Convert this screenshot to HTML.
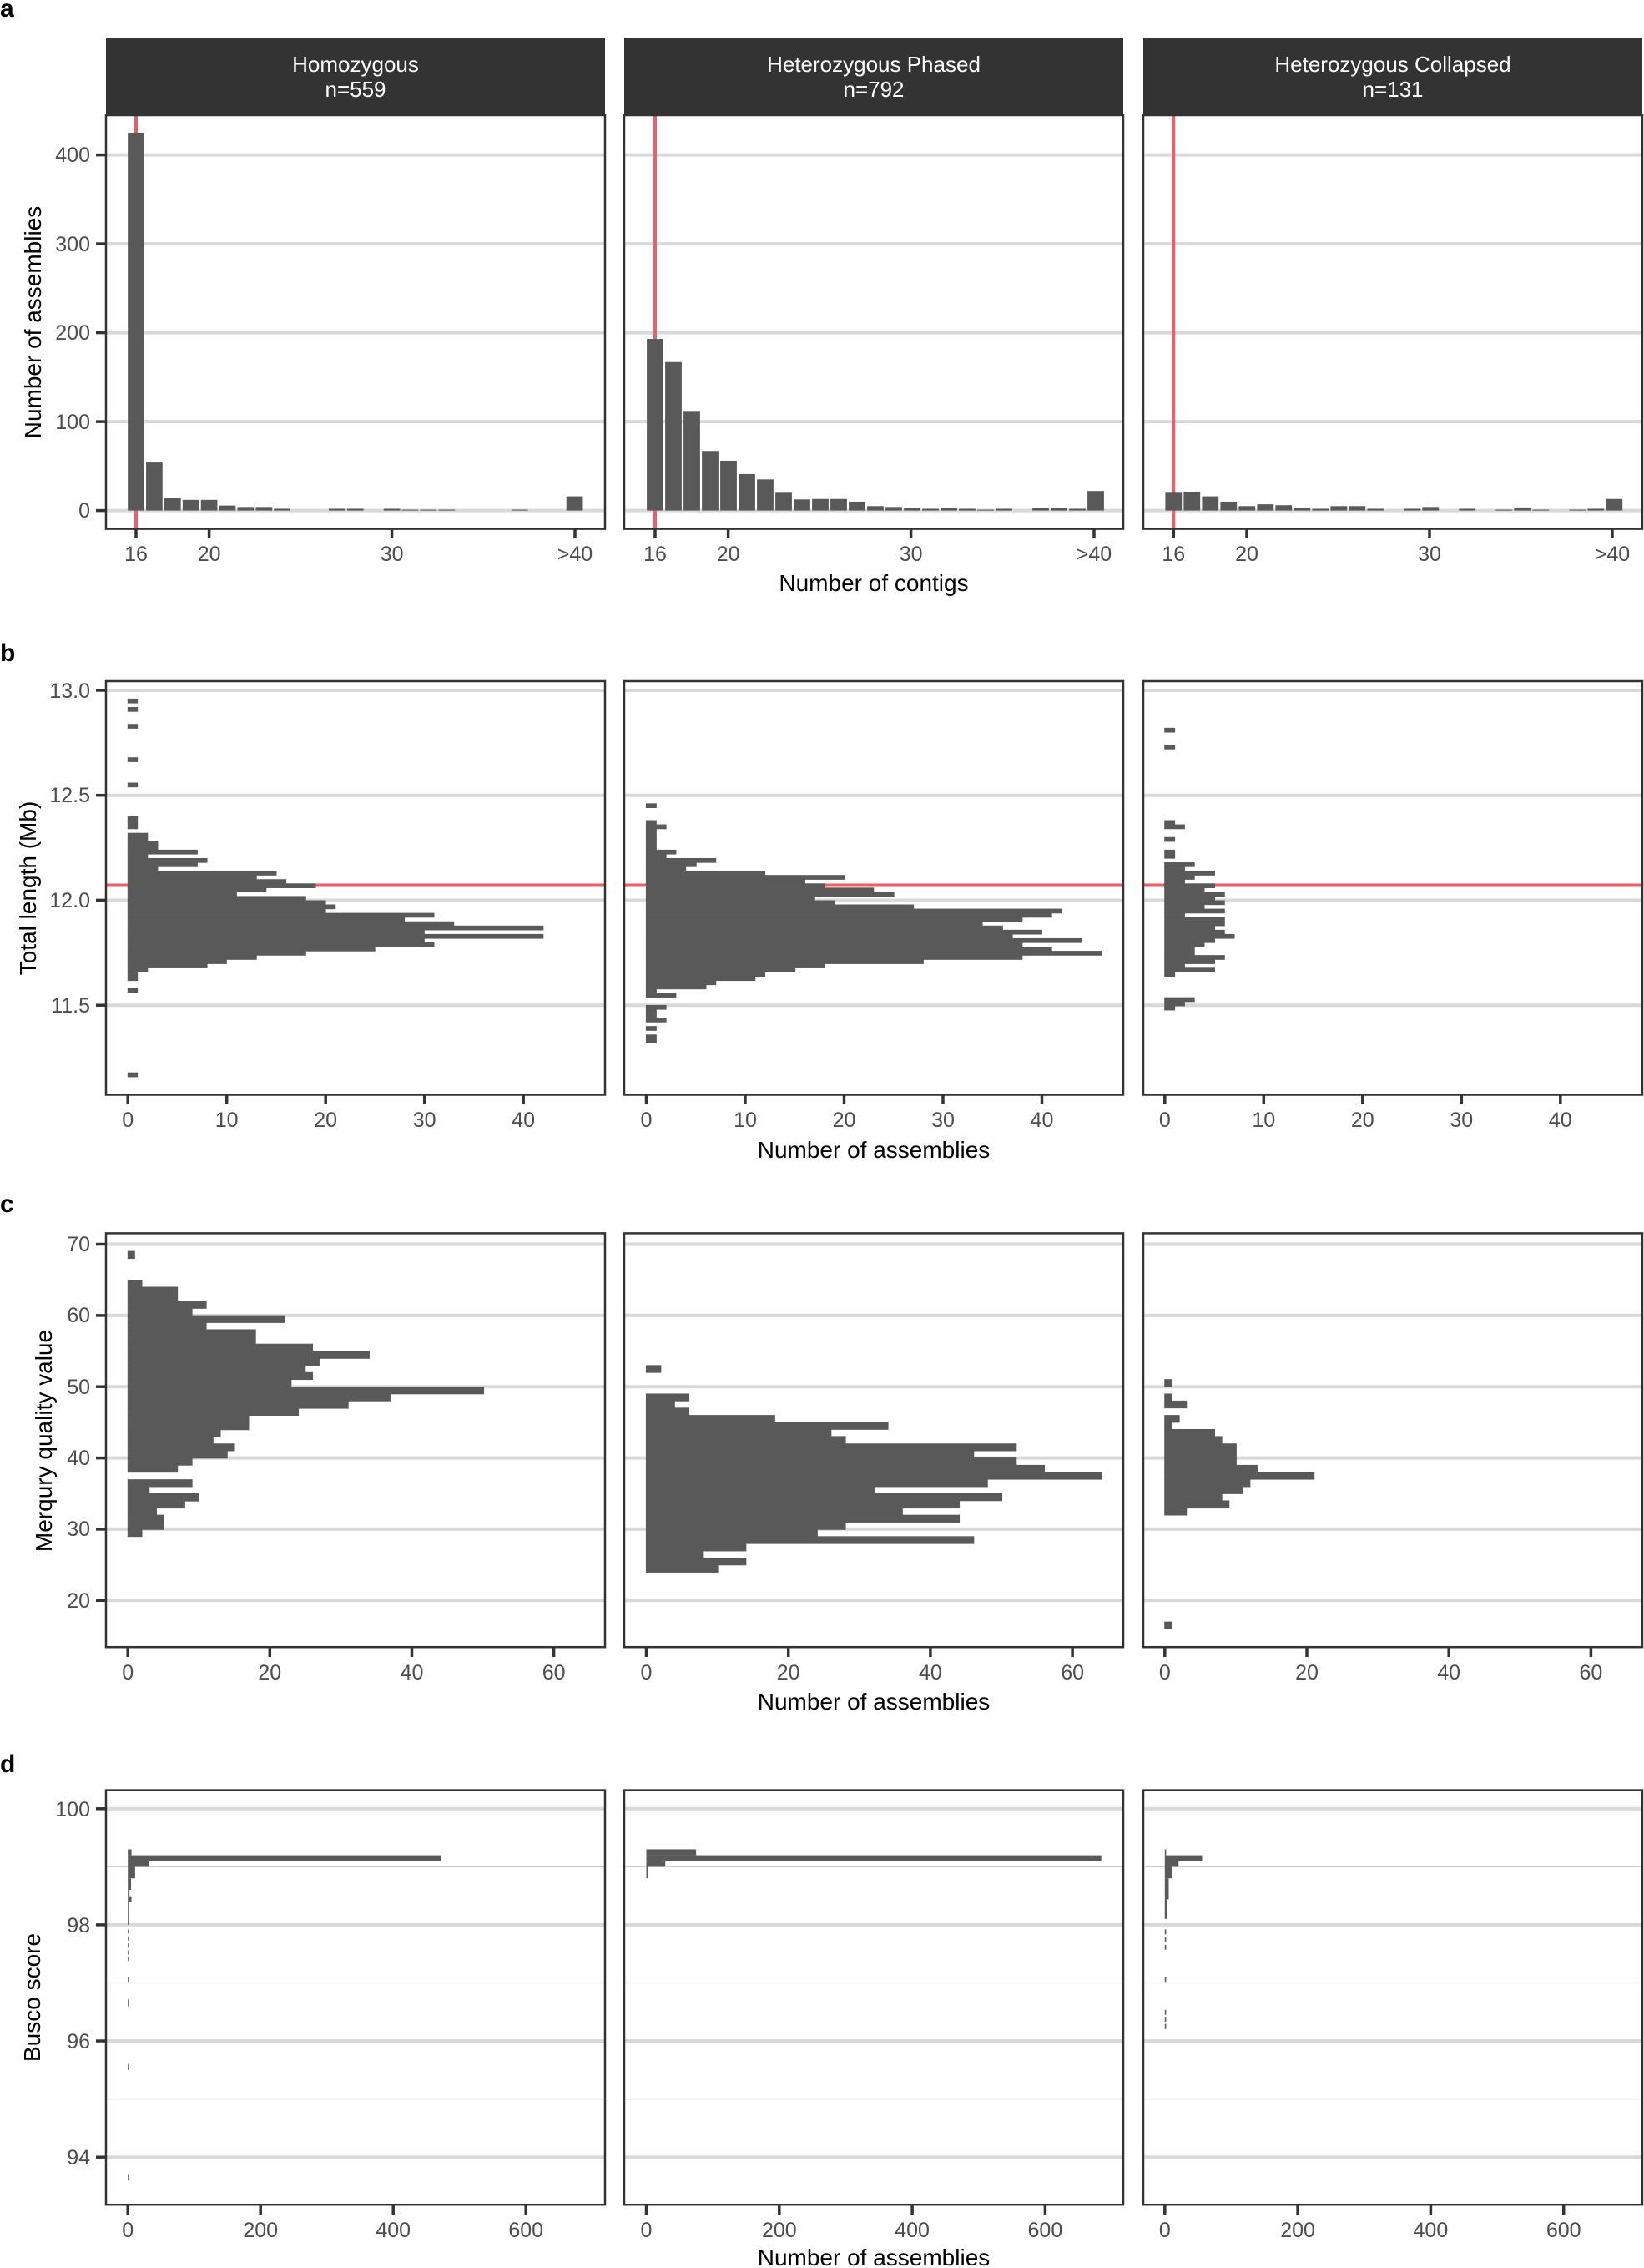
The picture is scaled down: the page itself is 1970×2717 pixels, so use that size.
<!DOCTYPE html>
<html><head><meta charset="utf-8"><style>
html,body{margin:0;padding:0;background:#fff}
svg{display:block}
text{font-family:"Liberation Sans",Arial,sans-serif}
.tk{fill:#4d4d4d;font-size:25px}
.tt{fill:#000;font-size:28px}
.st{fill:#fff;font-size:26px}
.pl{font-size:30px;font-weight:bold;fill:#000}
.gr{stroke:#d9d9d9;stroke-width:4}
.gm{stroke:#cfcfcf;stroke-width:1.2}
.bx{fill:none;stroke:#333;stroke-width:2.5}
.ax{stroke:#333;stroke-width:3.5}
.bar{fill:#595959}
.hb{fill:#595959;stroke:#595959;stroke-width:1.5}
</style></head><body>
<svg width="1970" height="2717" viewBox="0 0 1970 2717" xmlns="http://www.w3.org/2000/svg">
<!-- ========== A ========== -->
<text class="pl" x="0" y="20">a</text>
<g>
<rect x="127" y="45" width="598" height="93" fill="#333"/>
<rect x="748" y="45" width="598" height="93" fill="#333"/>
<rect x="1370" y="45" width="598" height="93" fill="#333"/>
<text class="st" x="426" y="86" text-anchor="middle">Homozygous</text>
<text class="st" x="426" y="116" text-anchor="middle">n=559</text>
<text class="st" x="1047" y="86" text-anchor="middle">Heterozygous Phased</text>
<text class="st" x="1047" y="116" text-anchor="middle">n=792</text>
<text class="st" x="1669" y="86" text-anchor="middle">Heterozygous Collapsed</text>
<text class="st" x="1669" y="116" text-anchor="middle">n=131</text>
</g>
<g id="ag">
<line class="gr" x1="128" x2="724" y1="611.6" y2="611.6"/>
<line class="gr" x1="128" x2="724" y1="505.1" y2="505.1"/>
<line class="gr" x1="128" x2="724" y1="398.6" y2="398.6"/>
<line class="gr" x1="128" x2="724" y1="292.1" y2="292.1"/>
<line class="gr" x1="128" x2="724" y1="185.6" y2="185.6"/>
<line class="gr" x1="749" x2="1345" y1="611.6" y2="611.6"/>
<line class="gr" x1="749" x2="1345" y1="505.1" y2="505.1"/>
<line class="gr" x1="749" x2="1345" y1="398.6" y2="398.6"/>
<line class="gr" x1="749" x2="1345" y1="292.1" y2="292.1"/>
<line class="gr" x1="749" x2="1345" y1="185.6" y2="185.6"/>
<line class="gr" x1="1371" x2="1967" y1="611.6" y2="611.6"/>
<line class="gr" x1="1371" x2="1967" y1="505.1" y2="505.1"/>
<line class="gr" x1="1371" x2="1967" y1="398.6" y2="398.6"/>
<line class="gr" x1="1371" x2="1967" y1="292.1" y2="292.1"/>
<line class="gr" x1="1371" x2="1967" y1="185.6" y2="185.6"/>
</g>
<line x1="163" x2="163" y1="138" y2="633" stroke="#e8606a" stroke-width="4"/>
<line x1="785" x2="785" y1="138" y2="633" stroke="#e8606a" stroke-width="4"/>
<line x1="1406.3" x2="1406.3" y1="138" y2="633" stroke="#e8606a" stroke-width="4"/>
<g class="bar" transform="translate(163,611.6) scale(21.9,-1.065)">
<rect x="-0.45" y="0" width="0.9" height="425"/>
<rect x="0.55" y="0" width="0.9" height="54"/>
<rect x="1.55" y="0" width="0.9" height="14"/>
<rect x="2.55" y="0" width="0.9" height="12"/>
<rect x="3.55" y="0" width="0.9" height="12"/>
<rect x="4.55" y="0" width="0.9" height="5.6"/>
<rect x="5.55" y="0" width="0.9" height="4"/>
<rect x="6.55" y="0" width="0.9" height="4"/>
<rect x="7.55" y="0" width="0.9" height="2"/>
<rect x="10.55" y="0" width="0.9" height="2"/>
<rect x="11.55" y="0" width="0.9" height="2"/>
<rect x="13.55" y="0" width="0.9" height="2"/>
<rect x="14.55" y="0" width="0.9" height="1"/>
<rect x="15.55" y="0" width="0.9" height="1"/>
<rect x="16.55" y="0" width="0.9" height="1"/>
<rect x="20.55" y="0" width="0.9" height="1"/>
<rect x="23.55" y="0" width="0.9" height="16"/>
</g>
<g class="bar" transform="translate(785,611.6) scale(22,-1.065)">
<rect x="-0.45" y="0" width="0.9" height="193"/>
<rect x="0.55" y="0" width="0.9" height="167"/>
<rect x="1.55" y="0" width="0.9" height="112"/>
<rect x="2.55" y="0" width="0.9" height="67"/>
<rect x="3.55" y="0" width="0.9" height="56"/>
<rect x="4.55" y="0" width="0.9" height="41"/>
<rect x="5.55" y="0" width="0.9" height="35"/>
<rect x="6.55" y="0" width="0.9" height="20"/>
<rect x="7.55" y="0" width="0.9" height="12.5"/>
<rect x="8.55" y="0" width="0.9" height="13"/>
<rect x="9.55" y="0" width="0.9" height="13"/>
<rect x="10.55" y="0" width="0.9" height="10"/>
<rect x="11.55" y="0" width="0.9" height="5"/>
<rect x="12.55" y="0" width="0.9" height="4"/>
<rect x="13.55" y="0" width="0.9" height="3"/>
<rect x="14.55" y="0" width="0.9" height="2"/>
<rect x="15.55" y="0" width="0.9" height="3"/>
<rect x="16.55" y="0" width="0.9" height="2"/>
<rect x="17.55" y="0" width="0.9" height="1"/>
<rect x="18.55" y="0" width="0.9" height="2"/>
<rect x="20.55" y="0" width="0.9" height="3"/>
<rect x="21.55" y="0" width="0.9" height="3"/>
<rect x="22.55" y="0" width="0.9" height="2"/>
<rect x="23.55" y="0" width="0.9" height="22"/>
</g>
<g class="bar" transform="translate(1406.3,611.6) scale(22,-1.065)">
<rect x="-0.45" y="0" width="0.9" height="20"/>
<rect x="0.55" y="0" width="0.9" height="21"/>
<rect x="1.55" y="0" width="0.9" height="16"/>
<rect x="2.55" y="0" width="0.9" height="10"/>
<rect x="3.55" y="0" width="0.9" height="5"/>
<rect x="4.55" y="0" width="0.9" height="7"/>
<rect x="5.55" y="0" width="0.9" height="6"/>
<rect x="6.55" y="0" width="0.9" height="3"/>
<rect x="7.55" y="0" width="0.9" height="2"/>
<rect x="8.55" y="0" width="0.9" height="5"/>
<rect x="9.55" y="0" width="0.9" height="5"/>
<rect x="10.55" y="0" width="0.9" height="2"/>
<rect x="12.55" y="0" width="0.9" height="2"/>
<rect x="13.55" y="0" width="0.9" height="4"/>
<rect x="15.55" y="0" width="0.9" height="2"/>
<rect x="17.55" y="0" width="0.9" height="1"/>
<rect x="18.55" y="0" width="0.9" height="3.5"/>
<rect x="19.55" y="0" width="0.9" height="1"/>
<rect x="21.55" y="0" width="0.9" height="1"/>
<rect x="22.55" y="0" width="0.9" height="2"/>
<rect x="23.55" y="0" width="0.9" height="13"/>
</g>
<rect class="bx" x="127" y="138" width="598" height="495.6"/>
<rect class="bx" x="748" y="138" width="598" height="495.6"/>
<rect class="bx" x="1370" y="138" width="598" height="495.6"/>
<g class="ax">
<line x1="115" x2="127" y1="611.6" y2="611.6"/><line x1="115" x2="127" y1="505.1" y2="505.1"/><line x1="115" x2="127" y1="398.6" y2="398.6"/><line x1="115" x2="127" y1="292.1" y2="292.1"/><line x1="115" x2="127" y1="185.6" y2="185.6"/>
<line x1="163" x2="163" y1="634" y2="645"/><line x1="250.6" x2="250.6" y1="634" y2="645"/><line x1="469.6" x2="469.6" y1="634" y2="645"/><line x1="689" x2="689" y1="634" y2="645"/>
<line x1="785" x2="785" y1="634" y2="645"/><line x1="872.6" x2="872.6" y1="634" y2="645"/><line x1="1091.6" x2="1091.6" y1="634" y2="645"/><line x1="1311" x2="1311" y1="634" y2="645"/>
<line x1="1406.3" x2="1406.3" y1="634" y2="645"/><line x1="1494" x2="1494" y1="634" y2="645"/><line x1="1713" x2="1713" y1="634" y2="645"/><line x1="1932" x2="1932" y1="634" y2="645"/>
</g>
<g class="tk" text-anchor="end">
<text x="108" y="620">0</text><text x="108" y="514">100</text><text x="108" y="407">200</text><text x="108" y="301">300</text><text x="108" y="194">400</text>
</g>
<g class="tk" text-anchor="middle">
<text x="163" y="672">16</text><text x="250.6" y="672">20</text><text x="469.6" y="672">30</text><text x="689" y="672">&gt;40</text>
<text x="785" y="672">16</text><text x="872.6" y="672">20</text><text x="1091.6" y="672">30</text><text x="1311" y="672">&gt;40</text>
<text x="1406.3" y="672">16</text><text x="1494" y="672">20</text><text x="1713" y="672">30</text><text x="1932" y="672">&gt;40</text>
</g>
<text class="tt" x="1047" y="708" text-anchor="middle">Number of contigs</text>
<text class="tt" transform="translate(49,386) rotate(-90)" text-anchor="middle">Number of assemblies</text>

<!-- ========== B ========== -->
<text class="pl" x="0" y="792">b</text>
<g>
<line class="gr" x1="128" x2="724" y1="827" y2="827"/><line class="gr" x1="128" x2="724" y1="952.7" y2="952.7"/><line class="gr" x1="128" x2="724" y1="1078.4" y2="1078.4"/><line class="gr" x1="128" x2="724" y1="1204.2" y2="1204.2"/>
<line class="gr" x1="749" x2="1345" y1="827" y2="827"/><line class="gr" x1="749" x2="1345" y1="952.7" y2="952.7"/><line class="gr" x1="749" x2="1345" y1="1078.4" y2="1078.4"/><line class="gr" x1="749" x2="1345" y1="1204.2" y2="1204.2"/>
<line class="gr" x1="1371" x2="1967" y1="827" y2="827"/><line class="gr" x1="1371" x2="1967" y1="952.7" y2="952.7"/><line class="gr" x1="1371" x2="1967" y1="1078.4" y2="1078.4"/><line class="gr" x1="1371" x2="1967" y1="1204.2" y2="1204.2"/>
</g>
<line x1="127" x2="725" y1="1060.5" y2="1060.5" stroke="#e8606a" stroke-width="4"/>
<line x1="748" x2="1346" y1="1060.5" y2="1060.5" stroke="#e8606a" stroke-width="4"/>
<line x1="1370" x2="1968" y1="1060.5" y2="1060.5" stroke="#e8606a" stroke-width="4"/>
<g class="hb" transform="translate(0,740) scale(0.48473,0.42088)">
<rect x="316" y="231" width="24" height="12"/><rect x="316" y="255" width="24" height="12"/><rect x="316" y="303" width="24" height="12"/><rect x="316" y="398" width="24" height="12"/><rect x="316" y="470" width="24" height="12"/>
<rect x="316" y="566" width="24" height="35"/><rect x="316" y="613" width="49" height="24"/><rect x="316" y="637" width="74" height="24"/>
<rect x="316" y="661" width="172" height="12"/><rect x="316" y="673" width="49" height="12"/><rect x="316" y="685" width="196" height="12"/><rect x="316" y="697" width="172" height="12"/><rect x="316" y="709" width="74" height="12"/><rect x="316" y="721" width="367" height="12"/><rect x="316" y="733" width="318" height="12"/><rect x="316" y="745" width="391" height="12"/><rect x="316" y="757" width="464" height="12"/><rect x="316" y="769" width="342" height="12"/><rect x="316" y="781" width="269" height="12"/><rect x="316" y="793" width="440" height="12"/><rect x="316" y="805" width="489" height="12"/><rect x="316" y="817" width="513" height="12"/><rect x="316" y="829" width="489" height="12"/><rect x="316" y="841" width="757" height="12"/><rect x="316" y="853" width="684" height="12"/><rect x="316" y="865" width="806" height="12"/><rect x="316" y="877" width="1027" height="12"/><rect x="316" y="889" width="733" height="12"/><rect x="316" y="901" width="1027" height="12"/><rect x="316" y="913" width="733" height="12"/><rect x="316" y="925" width="757" height="12"/><rect x="316" y="937" width="611" height="12"/><rect x="316" y="949" width="440" height="12"/><rect x="316" y="961" width="318" height="12"/><rect x="316" y="973" width="244" height="12"/><rect x="316" y="985" width="196" height="12"/><rect x="316" y="997" width="49" height="12"/><rect x="316" y="1009" width="24" height="24"/><rect x="316" y="1055" width="24" height="12"/><rect x="316" y="1295" width="24" height="12"/>
</g>
<g class="hb" transform="translate(740,740) scale(0.78444,0.42088)">
<rect x="44" y="529" width="15" height="12"/><rect x="44" y="577" width="15" height="12"/><rect x="44" y="589" width="30" height="12"/><rect x="44" y="601" width="15" height="60"/><rect x="44" y="661" width="45" height="12"/><rect x="44" y="673" width="30" height="12"/><rect x="44" y="685" width="106" height="12"/><rect x="44" y="697" width="76" height="12"/><rect x="44" y="709" width="60" height="12"/><rect x="44" y="721" width="181" height="12"/><rect x="44" y="733" width="302" height="12"/><rect x="44" y="745" width="242" height="12"/><rect x="44" y="757" width="272" height="12"/><rect x="44" y="769" width="347" height="12"/><rect x="44" y="781" width="378" height="12"/><rect x="44" y="793" width="257" height="12"/><rect x="44" y="805" width="287" height="12"/><rect x="44" y="817" width="408" height="12"/><rect x="44" y="829" width="634" height="12"/><rect x="44" y="841" width="619" height="12"/><rect x="44" y="853" width="574" height="12"/><rect x="44" y="865" width="513" height="12"/><rect x="44" y="877" width="544" height="12"/><rect x="44" y="889" width="604" height="12"/><rect x="44" y="901" width="559" height="12"/><rect x="44" y="913" width="664" height="12"/><rect x="44" y="925" width="574" height="12"/><rect x="44" y="937" width="619" height="12"/><rect x="44" y="949" width="695" height="12"/><rect x="44" y="961" width="574" height="12"/><rect x="44" y="973" width="423" height="12"/><rect x="44" y="985" width="272" height="12"/><rect x="44" y="997" width="227" height="12"/><rect x="44" y="1009" width="181" height="12"/><rect x="44" y="1021" width="166" height="12"/><rect x="44" y="1033" width="106" height="12"/><rect x="44" y="1045" width="91" height="12"/><rect x="44" y="1057" width="15" height="12"/><rect x="44" y="1069" width="45" height="12"/><rect x="44" y="1103" width="30" height="12"/><rect x="44" y="1115" width="15" height="24"/><rect x="44" y="1139" width="30" height="12"/><rect x="44" y="1163" width="15" height="12"/><rect x="44" y="1187" width="15" height="24"/>
<rect x="836" y="314" width="15" height="12"/><rect x="836" y="362" width="15" height="12"/><rect x="836" y="577" width="15" height="12"/><rect x="836" y="589" width="30" height="12"/><rect x="836" y="625" width="15" height="12"/><rect x="836" y="661" width="15" height="24"/><rect x="836" y="697" width="45" height="12"/><rect x="836" y="709" width="30" height="12"/><rect x="836" y="721" width="76" height="12"/><rect x="836" y="733" width="45" height="12"/><rect x="836" y="745" width="30" height="12"/><rect x="836" y="757" width="76" height="12"/><rect x="836" y="769" width="60" height="12"/><rect x="836" y="781" width="91" height="12"/><rect x="836" y="793" width="76" height="12"/><rect x="836" y="805" width="91" height="12"/><rect x="836" y="817" width="60" height="12"/><rect x="836" y="829" width="91" height="12"/><rect x="836" y="841" width="30" height="12"/><rect x="836" y="853" width="91" height="12"/><rect x="836" y="865" width="91" height="12"/><rect x="836" y="877" width="76" height="12"/><rect x="836" y="889" width="91" height="12"/><rect x="836" y="901" width="106" height="12"/><rect x="836" y="913" width="76" height="12"/><rect x="836" y="925" width="60" height="12"/><rect x="836" y="937" width="45" height="12"/><rect x="836" y="949" width="45" height="12"/><rect x="836" y="961" width="91" height="12"/><rect x="836" y="973" width="76" height="12"/><rect x="836" y="985" width="30" height="12"/><rect x="836" y="997" width="76" height="12"/><rect x="836" y="1009" width="15" height="12"/><rect x="836" y="1081" width="45" height="12"/><rect x="836" y="1093" width="30" height="12"/><rect x="836" y="1105" width="15" height="12"/>
</g>
<rect class="bx" x="127" y="816" width="598" height="495.5"/>
<rect class="bx" x="748" y="816" width="598" height="495.5"/>
<rect class="bx" x="1370" y="816" width="598" height="495.5"/>
<g class="ax">
<line x1="115" x2="127" y1="827" y2="827"/><line x1="115" x2="127" y1="952.7" y2="952.7"/><line x1="115" x2="127" y1="1078.4" y2="1078.4"/><line x1="115" x2="127" y1="1204.2" y2="1204.2"/>
<line x1="153.2" x2="153.2" y1="1312" y2="1323"/><line x1="271.7" x2="271.7" y1="1312" y2="1323"/><line x1="390.2" x2="390.2" y1="1312" y2="1323"/><line x1="508.7" x2="508.7" y1="1312" y2="1323"/><line x1="627.2" x2="627.2" y1="1312" y2="1323"/>
<line x1="774.5" x2="774.5" y1="1312" y2="1323"/><line x1="893" x2="893" y1="1312" y2="1323"/><line x1="1011.5" x2="1011.5" y1="1312" y2="1323"/><line x1="1130" x2="1130" y1="1312" y2="1323"/><line x1="1248.5" x2="1248.5" y1="1312" y2="1323"/>
<line x1="1395.8" x2="1395.8" y1="1312" y2="1323"/><line x1="1514.3" x2="1514.3" y1="1312" y2="1323"/><line x1="1632.8" x2="1632.8" y1="1312" y2="1323"/><line x1="1751.3" x2="1751.3" y1="1312" y2="1323"/><line x1="1869.8" x2="1869.8" y1="1312" y2="1323"/>
</g>
<g class="tk" text-anchor="end">
<text x="108" y="836">13.0</text><text x="108" y="961">12.5</text><text x="108" y="1087">12.0</text><text x="108" y="1213">11.5</text>
</g>
<g class="tk" text-anchor="middle">
<text x="153.2" y="1350">0</text><text x="271.7" y="1350">10</text><text x="390.2" y="1350">20</text><text x="508.7" y="1350">30</text><text x="627.2" y="1350">40</text>
<text x="774.5" y="1350">0</text><text x="893" y="1350">10</text><text x="1011.5" y="1350">20</text><text x="1130" y="1350">30</text><text x="1248.5" y="1350">40</text>
<text x="1395.8" y="1350">0</text><text x="1514.3" y="1350">10</text><text x="1632.8" y="1350">20</text><text x="1751.3" y="1350">30</text><text x="1869.8" y="1350">40</text>
</g>
<text class="tt" x="1047" y="1387" text-anchor="middle">Number of assemblies</text>
<text class="tt" transform="translate(43,1064) rotate(-90)" text-anchor="middle">Total length (Mb)</text>

<!-- ========== C ========== -->
<text class="pl" x="0" y="1452">c</text>
<g>
<line class="gr" x1="128" x2="724" y1="1490.5" y2="1490.5"/><line class="gr" x1="128" x2="724" y1="1575.9" y2="1575.9"/><line class="gr" x1="128" x2="724" y1="1661.2" y2="1661.2"/><line class="gr" x1="128" x2="724" y1="1746.6" y2="1746.6"/><line class="gr" x1="128" x2="724" y1="1831.9" y2="1831.9"/><line class="gr" x1="128" x2="724" y1="1917.3" y2="1917.3"/>
<line class="gr" x1="749" x2="1345" y1="1490.5" y2="1490.5"/><line class="gr" x1="749" x2="1345" y1="1575.9" y2="1575.9"/><line class="gr" x1="749" x2="1345" y1="1661.2" y2="1661.2"/><line class="gr" x1="749" x2="1345" y1="1746.6" y2="1746.6"/><line class="gr" x1="749" x2="1345" y1="1831.9" y2="1831.9"/><line class="gr" x1="749" x2="1345" y1="1917.3" y2="1917.3"/>
<line class="gr" x1="1371" x2="1967" y1="1490.5" y2="1490.5"/><line class="gr" x1="1371" x2="1967" y1="1575.9" y2="1575.9"/><line class="gr" x1="1371" x2="1967" y1="1661.2" y2="1661.2"/><line class="gr" x1="1371" x2="1967" y1="1746.6" y2="1746.6"/><line class="gr" x1="1371" x2="1967" y1="1831.9" y2="1831.9"/><line class="gr" x1="1371" x2="1967" y1="1917.3" y2="1917.3"/>
</g>
<g class="hb" transform="translate(0,1400) scale(0.48473,0.42088)">
<rect x="316" y="235" width="17" height="21"/><rect x="316" y="317" width="35" height="20.5"/><rect x="316" y="337" width="123" height="40.5"/><rect x="316" y="377" width="194" height="21"/><rect x="316" y="398" width="159" height="20.5"/><rect x="316" y="418" width="387" height="20.5"/><rect x="316" y="438" width="194" height="20.5"/><rect x="316" y="458" width="316" height="41.5"/><rect x="316" y="499" width="457" height="20.5"/><rect x="316" y="519" width="597" height="21.5"/><rect x="316" y="540" width="475" height="20.5"/><rect x="316" y="560" width="439" height="20.5"/><rect x="316" y="580" width="457" height="20.5"/><rect x="316" y="600" width="404" height="21.5"/><rect x="316" y="621" width="880" height="20.5"/><rect x="316" y="641" width="650" height="20.5"/><rect x="316" y="661" width="545" height="21.5"/><rect x="316" y="682" width="422" height="20.5"/><rect x="316" y="702" width="299" height="41.5"/><rect x="316" y="743" width="229" height="20.5"/><rect x="316" y="763" width="211" height="20.5"/><rect x="316" y="783" width="264" height="20.5"/><rect x="316" y="803" width="246" height="21.5"/><rect x="316" y="824" width="159" height="20.5"/><rect x="316" y="844" width="123" height="20.5"/><rect x="316" y="885" width="159" height="20.5"/><rect x="316" y="905" width="53" height="20.5"/><rect x="316" y="925" width="176" height="21.5"/><rect x="316" y="946" width="141" height="20.5"/><rect x="316" y="966" width="71" height="20.5"/><rect x="316" y="986" width="88" height="41.5"/><rect x="316" y="1027" width="35" height="20.5"/>
</g>
<g class="hb" transform="translate(740,1400) scale(0.78444,0.42088)">
<rect x="44" y="560" width="22" height="20.5"/><rect x="44" y="641" width="65" height="20.5"/><rect x="44" y="661" width="43" height="20.5"/><rect x="44" y="681" width="65" height="21.5"/><rect x="44" y="702" width="196" height="20.5"/><rect x="44" y="722" width="369" height="20.5"/><rect x="44" y="742" width="282" height="20.5"/><rect x="44" y="762" width="304" height="21.5"/><rect x="44" y="783" width="565" height="20.5"/><rect x="44" y="803" width="500" height="20.5"/><rect x="44" y="823" width="565" height="21.5"/><rect x="44" y="844" width="608" height="20.5"/><rect x="44" y="864" width="695" height="20.5"/><rect x="44" y="884" width="521" height="21.5"/><rect x="44" y="905" width="348" height="20.5"/><rect x="44" y="925" width="543" height="20.5"/><rect x="44" y="945" width="478" height="21.5"/><rect x="44" y="966" width="391" height="20.5"/><rect x="44" y="986" width="478" height="20.5"/><rect x="44" y="1006" width="304" height="21.5"/><rect x="44" y="1027" width="261" height="20.5"/><rect x="44" y="1047" width="500" height="20.5"/><rect x="44" y="1067" width="152" height="21.5"/><rect x="44" y="1088" width="87" height="20.5"/><rect x="44" y="1108" width="152" height="20.5"/><rect x="44" y="1128" width="109" height="21"/>
<rect x="836" y="600" width="11" height="21"/><rect x="836" y="641" width="11" height="20.5"/><rect x="836" y="661" width="33" height="20.5"/><rect x="836" y="702" width="22" height="20.5"/><rect x="836" y="722" width="11" height="20.5"/><rect x="836" y="742" width="76" height="20.5"/><rect x="836" y="762" width="87" height="21.5"/><rect x="836" y="783" width="109" height="20.5"/><rect x="836" y="803" width="109" height="20.5"/><rect x="836" y="823" width="109" height="21.5"/><rect x="836" y="844" width="141" height="20.5"/><rect x="836" y="864" width="228" height="20.5"/><rect x="836" y="884" width="130" height="21.5"/><rect x="836" y="905" width="119" height="20.5"/><rect x="836" y="925" width="87" height="20.5"/><rect x="836" y="945" width="98" height="21.5"/><rect x="836" y="966" width="33" height="20.5"/><rect x="836" y="1290" width="11" height="20"/>
</g>
<rect class="bx" x="127" y="1477.4" width="598" height="495.8"/>
<rect class="bx" x="748" y="1477.4" width="598" height="495.8"/>
<rect class="bx" x="1370" y="1477.4" width="598" height="495.8"/>
<g class="ax">
<line x1="115" x2="127" y1="1490.5" y2="1490.5"/><line x1="115" x2="127" y1="1575.9" y2="1575.9"/><line x1="115" x2="127" y1="1661.2" y2="1661.2"/><line x1="115" x2="127" y1="1746.6" y2="1746.6"/><line x1="115" x2="127" y1="1831.9" y2="1831.9"/><line x1="115" x2="127" y1="1917.3" y2="1917.3"/>
<line x1="153.2" x2="153.2" y1="1974" y2="1985"/><line x1="323.3" x2="323.3" y1="1974" y2="1985"/><line x1="493.5" x2="493.5" y1="1974" y2="1985"/><line x1="663.6" x2="663.6" y1="1974" y2="1985"/>
<line x1="774.5" x2="774.5" y1="1974" y2="1985"/><line x1="944.7" x2="944.7" y1="1974" y2="1985"/><line x1="1114.9" x2="1114.9" y1="1974" y2="1985"/><line x1="1285.1" x2="1285.1" y1="1974" y2="1985"/>
<line x1="1395.8" x2="1395.8" y1="1974" y2="1985"/><line x1="1566" x2="1566" y1="1974" y2="1985"/><line x1="1736.2" x2="1736.2" y1="1974" y2="1985"/><line x1="1906.4" x2="1906.4" y1="1974" y2="1985"/>
</g>
<g class="tk" text-anchor="end">
<text x="108" y="1499">70</text><text x="108" y="1584">60</text><text x="108" y="1670">50</text><text x="108" y="1755">40</text><text x="108" y="1840">30</text><text x="108" y="1926">20</text>
</g>
<g class="tk" text-anchor="middle">
<text x="153.2" y="2012">0</text><text x="323.3" y="2012">20</text><text x="493.5" y="2012">40</text><text x="663.6" y="2012">60</text>
<text x="774.5" y="2012">0</text><text x="944.7" y="2012">20</text><text x="1114.9" y="2012">40</text><text x="1285.1" y="2012">60</text>
<text x="1395.8" y="2012">0</text><text x="1566" y="2012">20</text><text x="1736.2" y="2012">40</text><text x="1906.4" y="2012">60</text>
</g>
<text class="tt" x="1047" y="2048" text-anchor="middle">Number of assemblies</text>
<text class="tt" transform="translate(62,1726) rotate(-90)" text-anchor="middle">Merqury quality value</text>

<!-- ========== D ========== -->
<text class="pl" x="0" y="2123">d</text>
<g>
<line class="gr" x1="128" x2="724" y1="2166.8" y2="2166.8"/><line class="gr" x1="128" x2="724" y1="2305.9" y2="2305.9"/><line class="gr" x1="128" x2="724" y1="2445" y2="2445"/><line class="gr" x1="128" x2="724" y1="2584.2" y2="2584.2"/>
<line class="gm" x1="128" x2="724" y1="2236.4" y2="2236.4"/><line class="gm" x1="128" x2="724" y1="2375.5" y2="2375.5"/><line class="gm" x1="128" x2="724" y1="2514.6" y2="2514.6"/>
<line class="gr" x1="749" x2="1345" y1="2166.8" y2="2166.8"/><line class="gr" x1="749" x2="1345" y1="2305.9" y2="2305.9"/><line class="gr" x1="749" x2="1345" y1="2445" y2="2445"/><line class="gr" x1="749" x2="1345" y1="2584.2" y2="2584.2"/>
<line class="gm" x1="749" x2="1345" y1="2236.4" y2="2236.4"/><line class="gm" x1="749" x2="1345" y1="2375.5" y2="2375.5"/><line class="gm" x1="749" x2="1345" y1="2514.6" y2="2514.6"/>
<line class="gr" x1="1371" x2="1967" y1="2166.8" y2="2166.8"/><line class="gr" x1="1371" x2="1967" y1="2305.9" y2="2305.9"/><line class="gr" x1="1371" x2="1967" y1="2445" y2="2445"/><line class="gr" x1="1371" x2="1967" y1="2584.2" y2="2584.2"/>
<line class="gm" x1="1371" x2="1967" y1="2236.4" y2="2236.4"/><line class="gm" x1="1371" x2="1967" y1="2375.5" y2="2375.5"/><line class="gm" x1="1371" x2="1967" y1="2514.6" y2="2514.6"/>
</g>
<g class="bar" transform="translate(0,2060) scale(0.48473,0.419)">
<rect x="316" y="371" width="9" height="17"/><rect x="316" y="388" width="774" height="17"/><rect x="316" y="405" width="53" height="16"/><rect x="316" y="421" width="18" height="33"/><rect x="316" y="454" width="8" height="33"/><rect x="316" y="487" width="4" height="18"/><rect x="316" y="505" width="9" height="16"/><rect x="316" y="521" width="3" height="66"/>
<rect x="316" y="600" width="2" height="12"/><rect x="316" y="620" width="2" height="12"/><rect x="316" y="640" width="2" height="12"/><rect x="316" y="660" width="2" height="12"/><rect x="316" y="678" width="2" height="12"/><rect x="316" y="735" width="2" height="15"/><rect x="316" y="800" width="2" height="20"/><rect x="316" y="985" width="2" height="17"/><rect x="316" y="1300" width="2" height="18"/>
</g>
<g class="bar" transform="translate(740,2060) scale(0.78444,0.419)">
<rect x="44" y="371" width="76" height="17"/><rect x="44" y="388" width="695" height="17"/><rect x="44" y="405" width="29" height="16"/><rect x="44" y="421" width="2" height="33"/>
<rect x="836" y="371" width="2" height="17"/><rect x="836" y="388" width="57" height="17"/><rect x="836" y="405" width="21" height="16"/><rect x="836" y="421" width="11" height="33"/><rect x="836" y="454" width="6" height="60"/><rect x="836" y="514" width="3" height="56"/>
<rect x="836" y="600" width="2" height="14"/><rect x="836" y="622" width="2" height="14"/><rect x="836" y="644" width="2" height="14"/><rect x="836" y="735" width="2" height="15"/><rect x="836" y="830" width="2" height="14"/><rect x="836" y="850" width="2" height="14"/><rect x="836" y="870" width="2" height="15"/>
</g>
<rect class="bx" x="127" y="2144.6" width="598" height="496.6"/>
<rect class="bx" x="748" y="2144.6" width="598" height="496.6"/>
<rect class="bx" x="1370" y="2144.6" width="598" height="496.6"/>
<g class="ax">
<line x1="115" x2="127" y1="2166.8" y2="2166.8"/><line x1="115" x2="127" y1="2305.9" y2="2305.9"/><line x1="115" x2="127" y1="2445" y2="2445"/><line x1="115" x2="127" y1="2584.2" y2="2584.2"/>
<line x1="153.2" x2="153.2" y1="2642" y2="2653"/><line x1="312.2" x2="312.2" y1="2642" y2="2653"/><line x1="471.2" x2="471.2" y1="2642" y2="2653"/><line x1="630.2" x2="630.2" y1="2642" y2="2653"/>
<line x1="774.5" x2="774.5" y1="2642" y2="2653"/><line x1="933.8" x2="933.8" y1="2642" y2="2653"/><line x1="1093.1" x2="1093.1" y1="2642" y2="2653"/><line x1="1252.4" x2="1252.4" y1="2642" y2="2653"/>
<line x1="1395.8" x2="1395.8" y1="2642" y2="2653"/><line x1="1555.1" x2="1555.1" y1="2642" y2="2653"/><line x1="1714.4" x2="1714.4" y1="2642" y2="2653"/><line x1="1873.7" x2="1873.7" y1="2642" y2="2653"/>
</g>
<g class="tk" text-anchor="end">
<text x="108" y="2176">100</text><text x="108" y="2315">98</text><text x="108" y="2454">96</text><text x="108" y="2593">94</text>
</g>
<g class="tk" text-anchor="middle">
<text x="153.2" y="2680">0</text><text x="312.2" y="2680">200</text><text x="471.2" y="2680">400</text><text x="630.2" y="2680">600</text>
<text x="774.5" y="2680">0</text><text x="933.8" y="2680">200</text><text x="1093.1" y="2680">400</text><text x="1252.4" y="2680">600</text>
<text x="1395.8" y="2680">0</text><text x="1555.1" y="2680">200</text><text x="1714.4" y="2680">400</text><text x="1873.7" y="2680">600</text>
</g>
<text class="tt" x="1047" y="2714" text-anchor="middle">Number of assemblies</text>
<text class="tt" transform="translate(48,2393) rotate(-90)" text-anchor="middle">Busco score</text>
</svg>
</body></html>
